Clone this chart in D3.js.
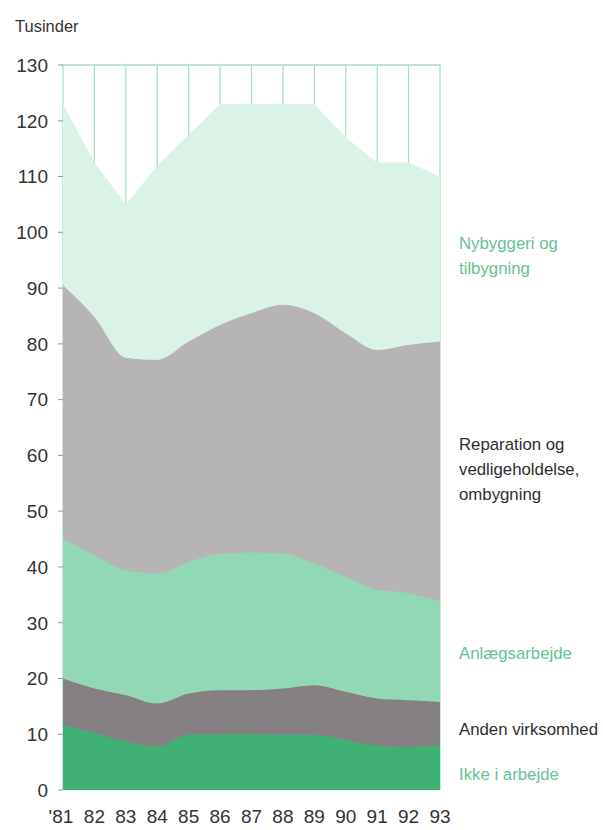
<!DOCTYPE html>
<html>
<head>
<meta charset="utf-8">
<script src="https://cdn.jsdelivr.net/npm/d3@7"></script>
<style>
  html, body { margin: 0; padding: 0; background: #fff; }
  svg { display: block; font-family: "Liberation Sans", Arial, sans-serif; }
</style>
</head>
<body>
<svg id="chart" width="603" height="830"></svg>
<script>
// ---- data ----
const years = [1981, 1982, 1983, 1984, 1985, 1986, 1987, 1988, 1989, 1990, 1991, 1992, 1993];
const yearLabels = ["'81", "82", "83", "84", "85", "86", "87", "88", "89", "90", "91", "92", "93"];
const ikkeIArbejde   = [11.7, 10.2, 8.7, 7.8, 9.9, 10.0, 10.0, 9.9, 9.9, 9.0, 7.9, 7.7, 8.1];
const andenVirksomhed = [8.3, 8.0, 8.3, 7.7, 7.4, 7.9, 7.9, 8.3, 8.9, 8.6, 8.5, 8.4, 7.7];
const anlaegsarbejde = [25.1, 23.9, 22.4, 23.3, 23.6, 24.5, 24.7, 24.2, 21.8, 20.6, 19.5, 19.2, 18.0];
const reparation     = [45.4, 42.7, 38.1, 38.3, 39.5, 41.0, 42.9, 44.6, 44.9, 43.7, 43.0, 44.5, 46.6];
const nybyggeri      = [32.5, 27.7, 27.5, 34.9, 37.1, 39.6, 37.5, 36.0, 37.5, 35.1, 33.6, 32.7, 29.6];
const yTicks = [0, 10, 20, 30, 40, 50, 60, 70, 80, 90, 100, 110, 120, 130];
const seriesKeys = ["ikke", "anden", "anlaeg", "reparation", "nybyggeri"];
const seriesColors = ["#41b074", "#858082", "#93d8b5", "#b6b4b4", "#daf3e6"];
const legendLines = [
  ["Nybyggeri og", "tilbygning"],
  ["Reparation og", "vedligeholdelse,", "ombygning"],
  ["Anlægsarbejde"],
  ["Anden virksomhed"],
  ["Ikke i arbejde"]
];

// ---- build table ----
const table = years.map((yr, i) => ({
  year: yr,
  ikke: ikkeIArbejde[i],
  anden: andenVirksomhed[i],
  anlaeg: anlaegsarbejde[i],
  reparation: reparation[i],
  nybyggeri: nybyggeri[i]
}));

const svg = d3.select("#chart");
const x = d3.scaleLinear().domain([1981, 1993]).range([63, 440]);
const y = d3.scaleLinear().domain([0, 130]).range([790, 65]);

// gridlines (vertical, green)
const gridColor = "#a9dcc1";
svg.append("g").selectAll("line").data(years).join("line")
  .attr("x1", d => x(d)).attr("x2", d => x(d))
  .attr("y1", y(130)).attr("y2", y(0))
  .attr("stroke", gridColor).attr("stroke-width", 1.2);
svg.append("line")
  .attr("x1", x(1981) - 2).attr("x2", x(1993) + 1)
  .attr("y1", y(130)).attr("y2", y(130))
  .attr("stroke", gridColor).attr("stroke-width", 1.5);

// stacked areas
const stack = d3.stack().keys(seriesKeys);
const layers = stack(table);
const layerOrder = layers.slice().reverse();
svg.append("g").selectAll("path").data(layerOrder).join("path")
  .attr("fill", d => seriesColors[d.index])
  .attr("d", d => d3.area()
      .x(p => x(p.data.year))
      .y0(y(0))
      .y1(p => y(p[1]))
      .curve(d.index === seriesKeys.length - 1 ? d3.curveLinear : d3.curveMonotoneX)(d));

// y axis ticks + labels
const yAxisG = svg.append("g");
yAxisG.selectAll("line").data(yTicks).join("line")
  .attr("x1", 58).attr("x2", 63)
  .attr("y1", d => y(d)).attr("y2", d => y(d))
  .attr("stroke", "#999").attr("stroke-width", 1);
yAxisG.selectAll("text").data(yTicks).join("text")
  .attr("x", 48).attr("y", d => y(d))
  .attr("dy", "0.36em")
  .attr("text-anchor", "end")
  .attr("font-size", 19)
  .attr("fill", "#333")
  .text(d => d);

// x labels
svg.append("g").selectAll("text").data(years).join("text")
  .attr("x", (d, i) => x(d) + (i === 0 ? -2 : 0))
  .attr("y", 823)
  .attr("text-anchor", "middle")
  .attr("font-size", 19)
  .attr("fill", "#333")
  .text((d, i) => yearLabels[i]);

// unit label
svg.append("text")
  .attr("x", 15).attr("y", 32)
  .attr("font-size", 16.5)
  .attr("fill", "#333")
  .text("Tusinder");

// legend labels
const legendBaselines = [249, 450, 659, 735, 780];
const legendColors = ["#66c293", "#2e2e2e", "#66c293", "#2e2e2e", "#66c293"];
const legendG = svg.append("g");
legendLines.forEach((lines, i) => {
  const t = legendG.append("text")
    .attr("x", 459).attr("y", legendBaselines[i])
    .attr("font-size", 16.8)
    .attr("fill", legendColors[i]);
  lines.forEach((ln, j) => {
    t.append("tspan").attr("x", 459).attr("dy", j === 0 ? 0 : 25).text(ln);
  });
});
</script>
</body>
</html>
